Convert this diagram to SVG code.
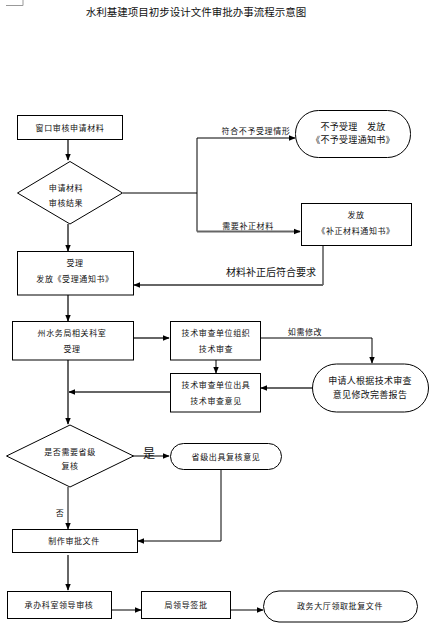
<svg xmlns="http://www.w3.org/2000/svg" width="437" height="636" viewBox="0 0 437 636">
<defs>
<style>
text{font-family:"Noto Sans CJK SC","Liberation Sans",sans-serif;fill:#111;text-anchor:middle}
.t{font-size:8px;letter-spacing:0.6px}
.b{font-size:9px;letter-spacing:0.3px}
.n{fill:#fff;stroke:#000;stroke-width:1}
.k{fill:none;stroke:#000;stroke-width:1}
.g{fill:none;stroke:#666;stroke-width:2}
</style>
<marker id="a" viewBox="0 0 10 10" refX="9" refY="5" markerWidth="7" markerHeight="7" markerUnits="userSpaceOnUse" orient="auto"><path d="M0,1 L10,5 L0,9 z" fill="#000"/></marker>
</defs>
<rect width="437" height="636" fill="#fff"/>
<path d="M6,5.5 H23 V0" fill="none" stroke="#999" stroke-width="1"/>
<text x="196" y="16" style="font-size:10.5px">水利基建项目初步设计文件审批办事流程示意图</text>

<g id="connectors">
<path class="g" d="M68,139 V160" marker-end="url(#a)"/>
<path class="k" d="M123,193 H197 V138 H295" marker-end="url(#a)"/>
<path class="k" d="M197,193 V231.5"/>
<path class="g" d="M197,231.5 H300" marker-end="url(#a)"/>
<text class="t" x="256" y="134">符合不予受理情形</text>
<text class="t" x="248" y="229">需要补正材料</text>
<path class="k" d="M323,246 V285"/>
<path class="g" d="M323,285 H134" marker-end="url(#a)"/>
<text x="271" y="276" style="font-size:10px">材料补正后符合要求</text>
<path class="g" d="M68,224 V251" marker-end="url(#a)"/>
<path class="g" d="M68,295 V321" marker-end="url(#a)"/>
<path class="g" d="M133,338 H169" marker-end="url(#a)"/>
<path class="k" d="M261,338 H372 V363" marker-end="url(#a)"/>
<text class="t" x="305" y="335">如需修改</text>
<path class="k" d="M216,360 V373" marker-end="url(#a)"/>
<path class="g" d="M312,388 H261" marker-end="url(#a)"/>
<path class="g" d="M170,392 H69" marker-end="url(#a)"/>
<path class="g" d="M68,360 V424" marker-end="url(#a)"/>
<path class="k" d="M133,456 H169" marker-end="url(#a)"/>
<text x="149" y="458" style="font-size:12px">是</text>
<path class="k" d="M221,469 V541 H138" marker-end="url(#a)"/>
<path class="k" d="M68,487 V529" marker-end="url(#a)"/>
<text class="t" x="60" y="516">否</text>
<path class="g" d="M68,555 V590" marker-end="url(#a)"/>
<path class="k" d="M112,610 H141" marker-end="url(#a)"/>
<path class="k" d="M231,610 H263" marker-end="url(#a)"/>
</g>

<g id="n1"><rect class="n" x="17.5" y="115.5" width="105" height="24"/><text class="t" x="70" y="130.5">窗口审核申请材料</text></g>
<g id="n2"><path class="n" d="M17.5,193 L70,161.5 L122.5,193 L70,224 Z"/><text class="t" x="66" y="191">申请材料</text><text class="t" x="66" y="206">审核结果</text></g>
<g id="n3"><rect class="n" x="295.5" y="110.5" width="115" height="47" rx="23" ry="23"/><text class="b" x="353" y="129.5">不予受理　发放</text><text class="b" x="353" y="143">《不予受理通知书》</text></g>
<g id="n4"><rect class="n" x="301.5" y="203.5" width="110" height="42"/><text class="t" x="356" y="218">发放</text><text class="t" x="356" y="234">《补正材料通知书》</text></g>
<g id="n5"><rect class="n" x="17.5" y="251.5" width="116" height="43.5"/><text class="t" x="75" y="266">受理</text><text class="t" x="75" y="282">发放《受理通知书》</text></g>
<g id="n6"><rect class="n" x="12.5" y="321.5" width="121" height="38.5"/><text class="t" x="72" y="336">州水务局相关科室</text><text class="t" x="72" y="352">受理</text></g>
<g id="n7"><rect class="n" x="170.5" y="321.5" width="90" height="38.5"/><text class="t" x="216" y="336">技术审查单位组织</text><text class="t" x="216" y="352">技术审查</text></g>
<g id="n8"><rect class="n" x="170.5" y="373.5" width="90" height="38.5"/><text class="t" x="216" y="388">技术审查单位出具</text><text class="t" x="216" y="404">技术审查意见</text></g>
<g id="n9"><rect class="n" x="312.5" y="364" width="116" height="48" rx="24" ry="24"/><text class="b" x="370" y="384">申请人根据技术审查</text><text class="b" x="370" y="397.5">意见修改完善报告</text></g>
<g id="n10"><path class="n" d="M6.5,456 L70,425 L133.5,456 L70,487 Z"/><text class="t" x="70" y="454.5">是否需要省级</text><text class="t" x="70" y="469">复核</text></g>
<g id="n11"><rect class="n" x="170.5" y="443.5" width="111" height="26" rx="13" ry="13"/><text class="t" x="226" y="459.5">省级出具复核意见</text></g>
<g id="n12"><rect class="n" x="12.5" y="529.5" width="125" height="23"/><text class="t" x="74" y="544">制作审批文件</text></g>
<g id="n13"><rect class="n" x="7.5" y="591.5" width="104" height="27"/><text class="t" x="59" y="608">承办科室领导审核</text></g>
<g id="n14"><rect class="n" x="141.5" y="591.5" width="89" height="27"/><text class="t" x="186" y="608">局领导签批</text></g>
<g id="n15"><rect class="n" x="263.5" y="591" width="154" height="31" rx="15.5" ry="15.5"/><text class="t" x="340" y="609">政务大厅领取批复文件</text></g>
</svg>
